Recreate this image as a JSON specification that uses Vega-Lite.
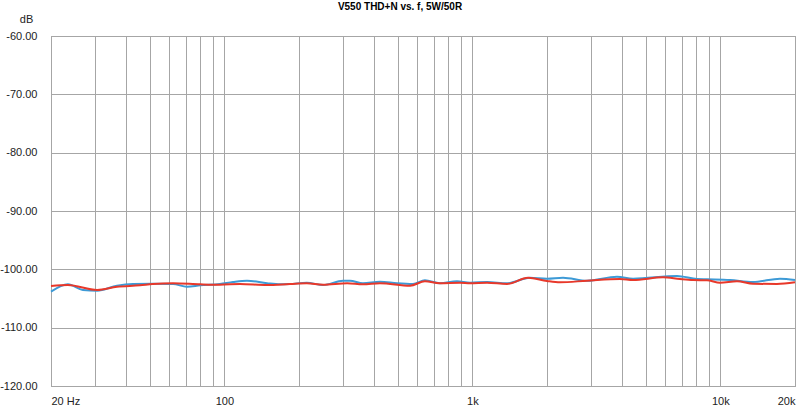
{
  "$schema": "https://vega.github.io/schema/vega-lite/v6.json",
  "width": 744,
  "height": 350,
  "autosize": {"type": "none"},
  "padding": {"left": 51, "top": 36, "right": 5, "bottom": 20},
  "background": "white",
  "title": {
    "text": "V550 THD+N vs. f, 5W/50R",
    "font": "Liberation Sans",
    "fontSize": 10,
    "fontWeight": "bold",
    "color": "#000000",
    "anchor": "middle",
    "frame": "group",
    "dx": -23,
    "offset": 1
  },
  "config": {
    "view": {"stroke": "#8c8c8c", "strokeWidth": 1},
    "axis": {"labelFont": "Liberation Sans", "titleFont": "Liberation Sans", "labelColor": "#222222", "titleColor": "#222222"}
  },
  "data": {
    "values": [
      {"f": 20, "db": -103.83, "s": "blue"},
      {"f": 23.4, "db": -102.57, "s": "blue"},
      {"f": 26.9, "db": -103.54, "s": "blue"},
      {"f": 30.7, "db": -103.66, "s": "blue"},
      {"f": 36.9, "db": -102.81, "s": "blue"},
      {"f": 42.8, "db": -102.51, "s": "blue"},
      {"f": 51.5, "db": -102.46, "s": "blue"},
      {"f": 62.1, "db": -102.51, "s": "blue"},
      {"f": 70.7, "db": -102.98, "s": "blue"},
      {"f": 80, "db": -102.74, "s": "blue"},
      {"f": 96, "db": -102.51, "s": "blue"},
      {"f": 108.4, "db": -102.17, "s": "blue"},
      {"f": 123.4, "db": -101.95, "s": "blue"},
      {"f": 148.6, "db": -102.39, "s": "blue"},
      {"f": 168, "db": -102.57, "s": "blue"},
      {"f": 184, "db": -102.51, "s": "blue"},
      {"f": 215, "db": -102.29, "s": "blue"},
      {"f": 250, "db": -102.69, "s": "blue"},
      {"f": 301, "db": -101.95, "s": "blue"},
      {"f": 321, "db": -101.95, "s": "blue"},
      {"f": 362, "db": -102.39, "s": "blue"},
      {"f": 424, "db": -102.12, "s": "blue"},
      {"f": 497, "db": -102.39, "s": "blue"},
      {"f": 576, "db": -102.51, "s": "blue"},
      {"f": 644, "db": -101.88, "s": "blue"},
      {"f": 740, "db": -102.39, "s": "blue"},
      {"f": 867, "db": -102.05, "s": "blue"},
      {"f": 979, "db": -102.29, "s": "blue"},
      {"f": 1146, "db": -102.17, "s": "blue"},
      {"f": 1380, "db": -102.39, "s": "blue"},
      {"f": 1708, "db": -101.43, "s": "blue"},
      {"f": 2000, "db": -101.6, "s": "blue"},
      {"f": 2321, "db": -101.43, "s": "blue"},
      {"f": 2899, "db": -101.95, "s": "blue"},
      {"f": 3830, "db": -101.26, "s": "blue"},
      {"f": 4446, "db": -101.6, "s": "blue"},
      {"f": 6687, "db": -101.14, "s": "blue"},
      {"f": 8055, "db": -101.66, "s": "blue"},
      {"f": 8837, "db": -101.71, "s": "blue"},
      {"f": 10940, "db": -101.83, "s": "blue"},
      {"f": 13546, "db": -102.17, "s": "blue"},
      {"f": 17400, "db": -101.6, "s": "blue"},
      {"f": 20000, "db": -101.83, "s": "blue"},
      {"f": 20, "db": -102.86, "s": "red"},
      {"f": 23.4, "db": -102.69, "s": "red"},
      {"f": 30.7, "db": -103.54, "s": "red"},
      {"f": 36.9, "db": -102.98, "s": "red"},
      {"f": 45.7, "db": -102.74, "s": "red"},
      {"f": 51.5, "db": -102.51, "s": "red"},
      {"f": 62.1, "db": -102.39, "s": "red"},
      {"f": 80, "db": -102.57, "s": "red"},
      {"f": 96, "db": -102.64, "s": "red"},
      {"f": 115.6, "db": -102.51, "s": "red"},
      {"f": 148.6, "db": -102.69, "s": "red"},
      {"f": 184, "db": -102.51, "s": "red"},
      {"f": 215, "db": -102.39, "s": "red"},
      {"f": 250, "db": -102.64, "s": "red"},
      {"f": 313, "db": -102.39, "s": "red"},
      {"f": 362, "db": -102.57, "s": "red"},
      {"f": 424, "db": -102.39, "s": "red"},
      {"f": 561, "db": -102.81, "s": "red"},
      {"f": 644, "db": -102.05, "s": "red"},
      {"f": 740, "db": -102.39, "s": "red"},
      {"f": 892, "db": -102.29, "s": "red"},
      {"f": 979, "db": -102.39, "s": "red"},
      {"f": 1146, "db": -102.29, "s": "red"},
      {"f": 1380, "db": -102.51, "s": "red"},
      {"f": 1677, "db": -101.43, "s": "red"},
      {"f": 2000, "db": -102.0, "s": "red"},
      {"f": 2256, "db": -102.22, "s": "red"},
      {"f": 2899, "db": -101.95, "s": "red"},
      {"f": 3936, "db": -101.66, "s": "red"},
      {"f": 4446, "db": -101.83, "s": "red"},
      {"f": 5874, "db": -101.37, "s": "red"},
      {"f": 6874, "db": -101.66, "s": "red"},
      {"f": 7760, "db": -101.83, "s": "red"},
      {"f": 8837, "db": -101.88, "s": "red"},
      {"f": 9973, "db": -102.29, "s": "red"},
      {"f": 11672, "db": -102.05, "s": "red"},
      {"f": 13546, "db": -102.46, "s": "red"},
      {"f": 16918, "db": -102.51, "s": "red"},
      {"f": 20000, "db": -102.22, "s": "red"}
    ]
  },
  "mark": {"type": "line", "strokeWidth": 2, "interpolate": "monotone"},
  "encoding": {
    "x": {
      "field": "f",
      "type": "quantitative",
      "scale": {"type": "log", "domain": [20, 20000], "nice": false},
      "axis": {
        "title": null,
        "values": [20, 30, 40, 50, 60, 70, 80, 90, 100, 200, 300, 400, 500, 600, 700, 800, 900, 1000, 2000, 3000, 4000, 5000, 6000, 7000, 8000, 9000, 10000, 20000],
        "labelExpr": "datum.value == 20 ? '20 Hz' : datum.value == 100 ? '100' : datum.value == 1000 ? '1k' : datum.value == 10000 ? '10k' : datum.value == 20000 ? '20k' : ''",
        "labelOverlap": false,
        "labelFlush": true,
        "labelFontSize": 11,
        "labelPadding": 9,
        "ticks": false,
        "domain": false,
        "grid": true,
        "gridColor": "#a6a6a6",
        "gridOpacity": 1,
        "gridWidth": 1
      }
    },
    "y": {
      "field": "db",
      "type": "quantitative",
      "scale": {"domain": [-120, -60], "nice": false, "zero": false},
      "axis": {
        "title": "dB",
        "titleAngle": 0,
        "titleX": -25,
        "titleY": -12,
        "titleAlign": "center",
        "titleBaseline": "bottom",
        "titleFontSize": 11,
        "titleFontWeight": "normal",
        "values": [-120, -110, -100, -90, -80, -70, -60],
        "labelExpr": "replace(format(datum.value, '.2f'), '\u2212', '-')",
        "labelFontSize": 11,
        "labelPadding": 14,
        "ticks": false,
        "domain": false,
        "grid": true,
        "gridColor": "#a6a6a6",
        "gridOpacity": 1,
        "gridWidth": 1
      }
    },
    "color": {
      "field": "s",
      "type": "nominal",
      "scale": {"domain": ["blue", "red"], "range": ["#3d9ad6", "#e8382a"]},
      "legend": null
    }
  }
}
